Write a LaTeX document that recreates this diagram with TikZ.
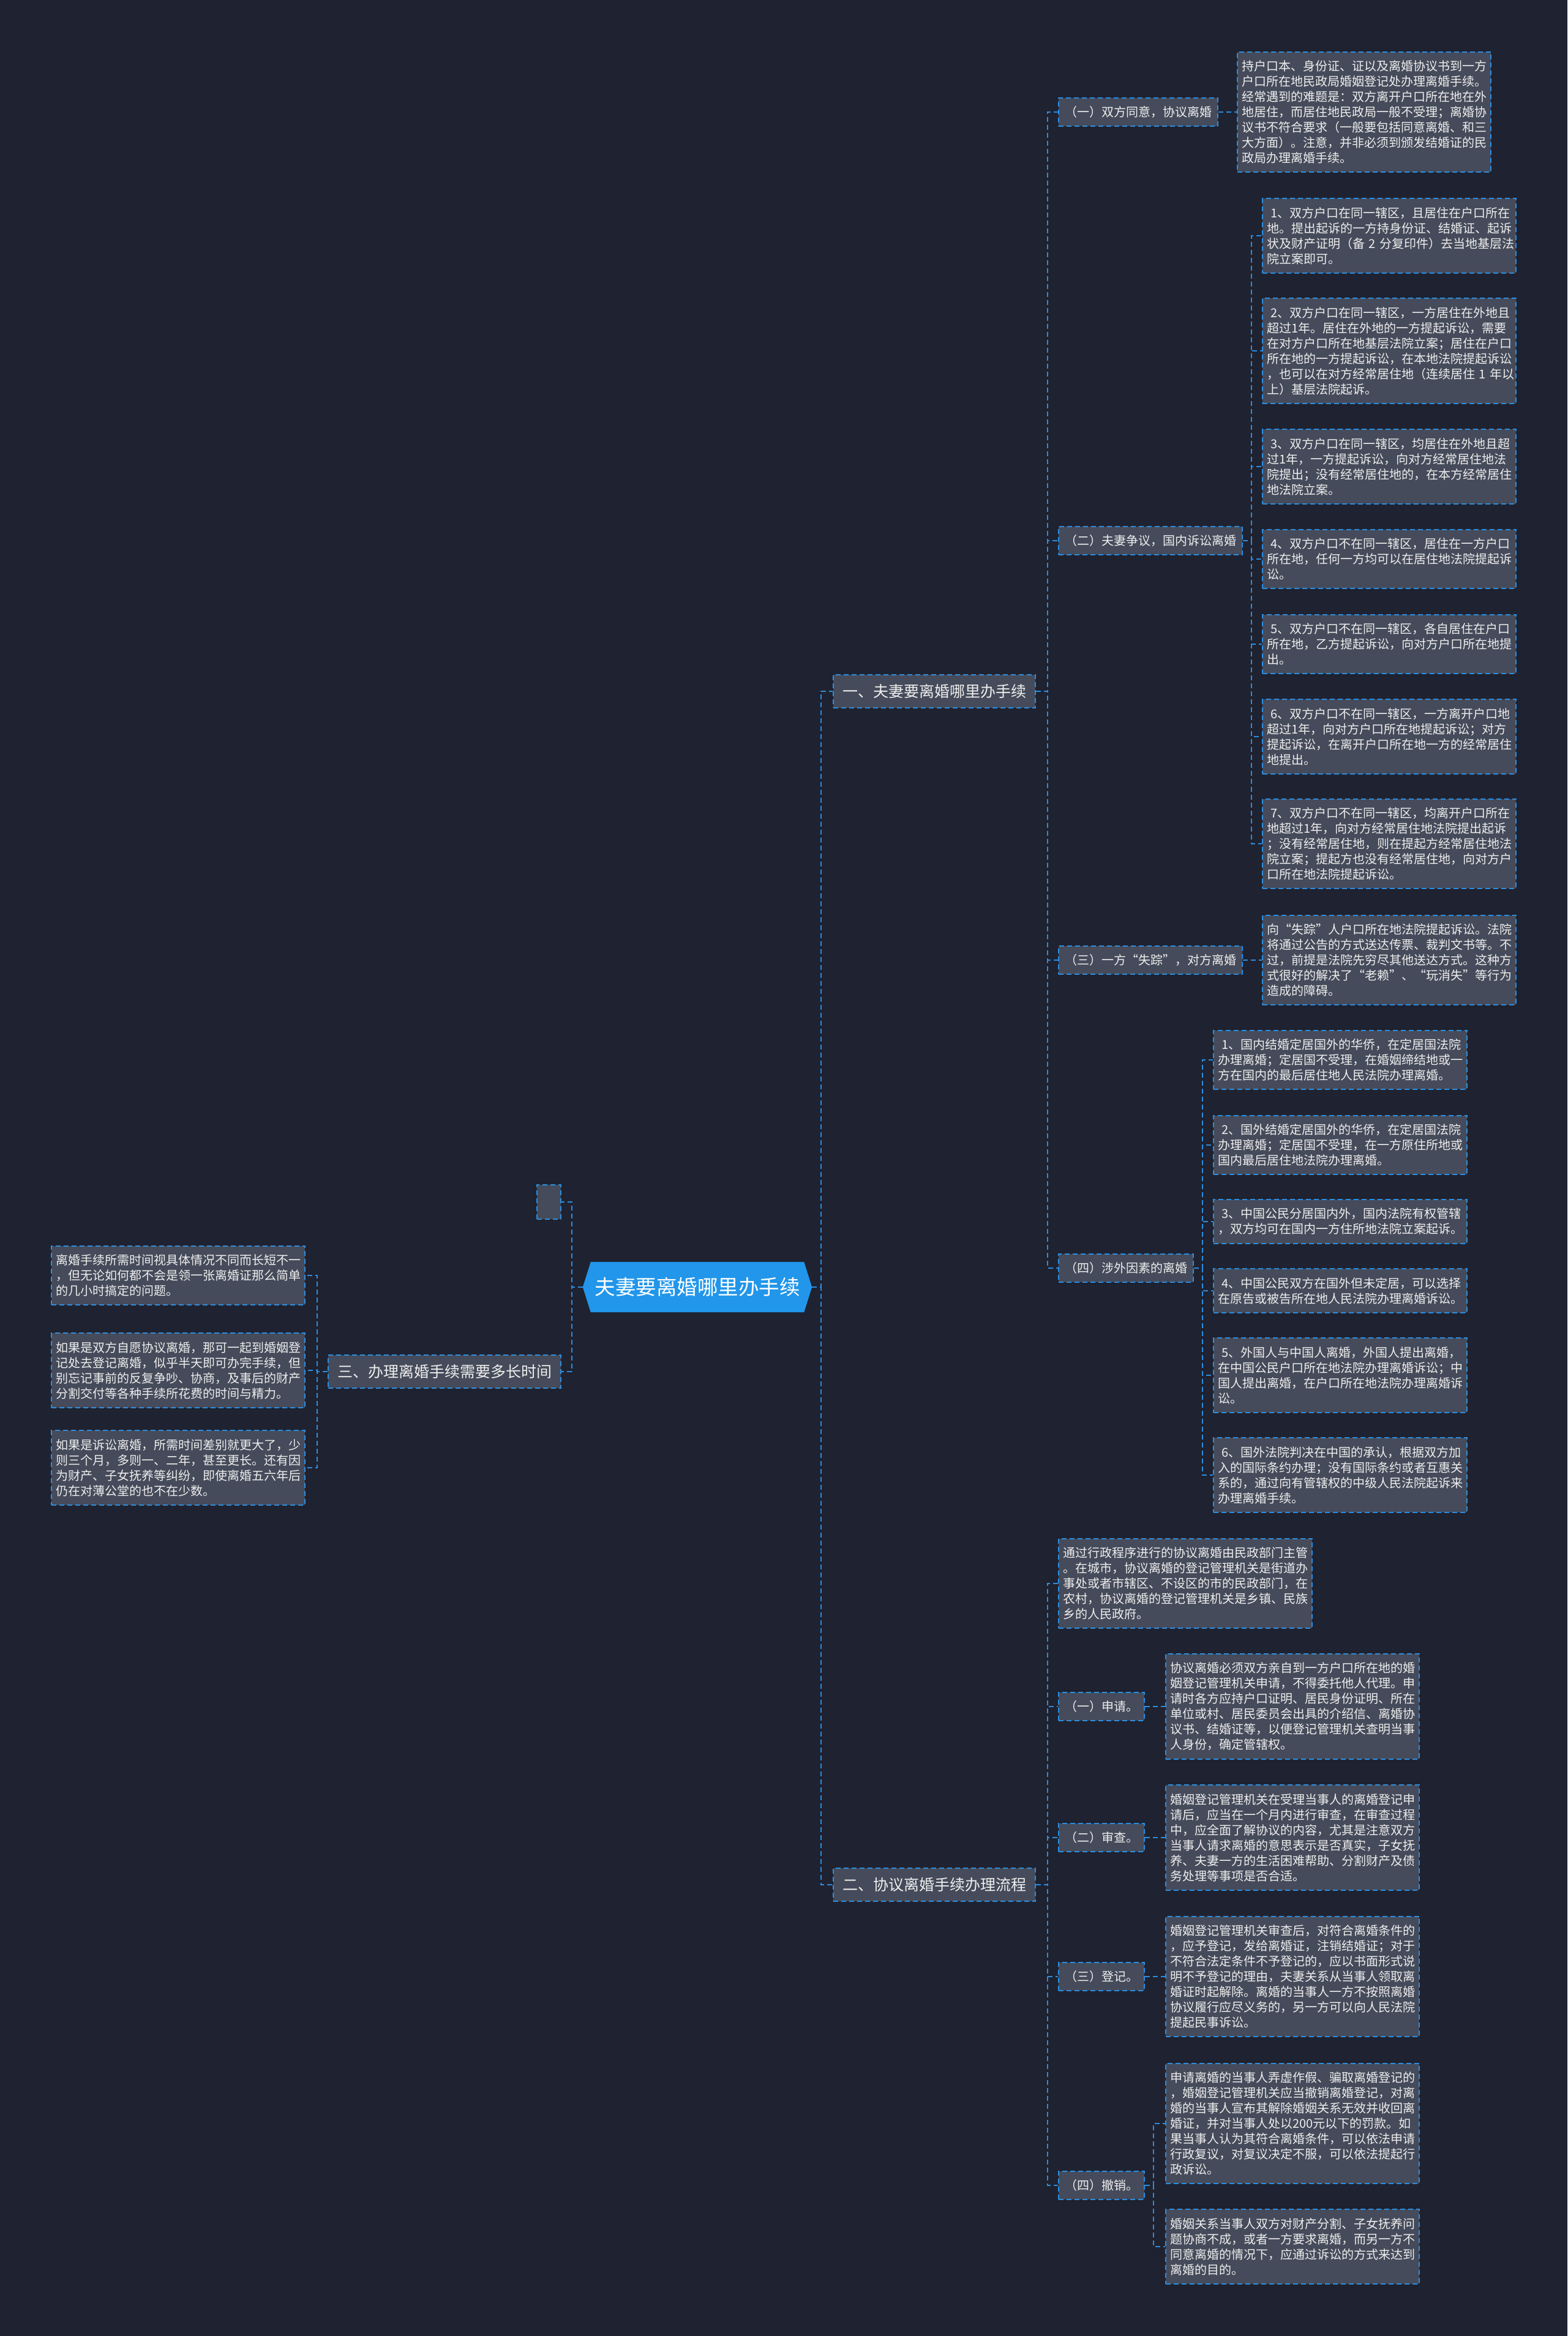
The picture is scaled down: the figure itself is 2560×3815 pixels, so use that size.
\documentclass[tikz,border=0pt]{standalone}
\usepackage{fontspec}
\setmainfont{Noto Sans CJK SC}
\usetikzlibrary{calc,backgrounds}
\definecolor{bgc}{HTML}{1F2230}
\definecolor{boxc}{HTML}{454B5A}
\definecolor{linec}{HTML}{2B8DE0}
\definecolor{txtc}{HTML}{EEEEEE}
\definecolor{mainc}{HTML}{2196EA}
\tikzset{
 conn/.style={draw=linec, line width=2pt, dash pattern=on 8pt off 5pt},
 boxbase/.style={fill=boxc, draw=linec, line width=2pt, dash pattern=on 8pt off 5pt, text=txtc},
 textbox/.style={boxbase, anchor=west, text width=400pt, align=left, inner xsep=7pt, inner ysep=14pt, font=\fontsize{20}{25}\selectfont},
 labelbox/.style={boxbase, anchor=west, inner xsep=10pt, inner ysep=13pt, text height=17.6pt, text depth=2.4pt, font=\fontsize{20}{25}\selectfont},
 topicbox/.style={boxbase, anchor=west, inner xsep=15pt, inner ysep=14.5pt, text height=22pt, text depth=3pt, font=\fontsize{25}{30}\selectfont},
}
\newcommand{\ind}{\hspace*{6pt}}
\begin{document}
\begin{tikzpicture}[x=1pt,y=-1pt]
\useasboundingbox (0,0) rectangle (2560,3815);
% central
\node[font=\fontsize{33.5}{38}\selectfont, text=white, minimum width=374pt, minimum height=82pt, inner sep=0pt] (cn) at (1139,2102) {夫妻要离婚哪里办手续};
\begin{scope}[on background layer]
\fill[bgc] (0,0) rectangle (2560,3815);
\fill[mainc] ($(cn.north west)+(13,0)$) -- ($(cn.north east)+(-13,0)$) -- (cn.east) -- ($(cn.south east)+(-13,0)$) -- ($(cn.south west)+(13,0)$) -- (cn.west) -- cycle;
\end{scope}

% level 1
\node[topicbox] (n1) at (1360,1129) {一、夫妻要离婚哪里办手续};
\node[topicbox] (n2) at (1360,3078) {二、协议离婚手续办理流程};
\node[topicbox] (n3) at (535,2240) {三、办理离婚手续需要多长时间};
\node[boxbase, anchor=west, minimum width=39pt, minimum height=56pt, inner sep=0pt] (E) at (876,1963) {};

\draw[conn] (cn.west) -- ++(-18,0) |- (E.east);
\draw[conn] (cn.west) -- ++(-18,0) |- (n3.east);
\draw[conn] (cn.east) -- ++(15,0) |- (n1.west);
\draw[conn] (cn.east) -- ++(15,0) |- (n2.west);

% ===== subtree 1
\node[labelbox] (L1a) at (1728,183) {（一）双方同意，协议离婚};
\node[labelbox] (L1b) at (1728,883) {（二）夫妻争议，国内诉讼离婚};
\node[labelbox] (L1c) at (1728,1568) {（三）一方“失踪”，对方离婚};
\node[labelbox] (L1d) at (1728,2071) {（四）涉外因素的离婚};
\coordinate (v1) at (1711,1129);
\foreach \t in {L1a,L1b,L1c,L1d}{\draw[conn] (n1.east) -- (v1) |- (\t.west);}

\node[textbox] (T1a) at (2020,183) {持户口本、身份证、证以及离婚协议书到一方\\户口所在地民政局婚姻登记处办理离婚手续。\\经常遇到的难题是：双方离开户口所在地在外\\地居住，而居住地民政局一般不受理；离婚协\\议书不符合要求（一般要包括同意离婚、和三\\大方面）。注意，并非必须到颁发结婚证的民\\政局办理离婚手续。};
\draw[conn] (L1a.east) -- (T1a.west);

\node[textbox] (B1) at (2061,385) {\ind 1、双方户口在同一辖区，且居住在户口所在\\地。提出起诉的一方持身份证、结婚证、起诉\\状及财产证明（备~2~分复印件）去当地基层法\\院立案即可。};
\node[textbox] (B2) at (2061,573) {\ind 2、双方户口在同一辖区，一方居住在外地且\\超过1年。居住在外地的一方提起诉讼，需要\\在对方户口所在地基层法院立案；居住在户口\\所在地的一方提起诉讼，在本地法院提起诉讼\\，也可以在对方经常居住地（连续居住~1~年以\\上）基层法院起诉。};
\node[textbox] (B3) at (2061,762) {\ind 3、双方户口在同一辖区，均居住在外地且超\\过1年，一方提起诉讼，向对方经常居住地法\\院提出；没有经常居住地的，在本方经常居住\\地法院立案。};
\node[textbox] (B4) at (2061,913) {\ind 4、双方户口不在同一辖区，居住在一方户口\\所在地，任何一方均可以在居住地法院提起诉\\讼。};
\node[textbox] (B5) at (2061,1052) {\ind 5、双方户口不在同一辖区，各自居住在户口\\所在地，乙方提起诉讼，向对方户口所在地提\\出。};
\node[textbox] (B6) at (2061,1203) {\ind 6、双方户口不在同一辖区，一方离开户口地\\超过1年，向对方户口所在地提起诉讼；对方\\提起诉讼，在离开户口所在地一方的经常居住\\地提出。};
\node[textbox] (B7) at (2061,1378) {\ind 7、双方户口不在同一辖区，均离开户口所在\\地超过1年，向对方经常居住地法院提出起诉\\；没有经常居住地，则在提起方经常居住地法\\院立案；提起方也没有经常居住地，向对方户\\口所在地法院提起诉讼。};
\coordinate (v1b) at (2044,883);
\foreach \t in {B1,B2,B3,B4,B5,B6,B7}{\draw[conn] (L1b.east) -- (v1b) |- (\t.west);}

\node[textbox] (T1c) at (2061,1568) {向“失踪”人户口所在地法院提起诉讼。法院\\将通过公告的方式送达传票、裁判文书等。不\\过，前提是法院先穷尽其他送达方式。这种方\\式很好的解决了“老赖”、“玩消失”等行为\\造成的障碍。};
\draw[conn] (L1c.east) -- (T1c.west);

\node[textbox] (D1) at (1981,1731) {\ind 1、国内结婚定居国外的华侨，在定居国法院\\办理离婚；定居国不受理，在婚姻缔结地或一\\方在国内的最后居住地人民法院办理离婚。};
\node[textbox] (D2) at (1981,1870) {\ind 2、国外结婚定居国外的华侨，在定居国法院\\办理离婚；定居国不受理，在一方原住所地或\\国内最后居住地法院办理离婚。};
\node[textbox] (D3) at (1981,1995) {\ind 3、中国公民分居国内外，国内法院有权管辖\\，双方均可在国内一方住所地法院立案起诉。};
\node[textbox] (D4) at (1981,2108) {\ind 4、中国公民双方在国外但未定居，可以选择\\在原告或被告所在地人民法院办理离婚诉讼。};
\node[textbox] (D5) at (1981,2246) {\ind 5、外国人与中国人离婚，外国人提出离婚，\\在中国公民户口所在地法院办理离婚诉讼；中\\国人提出离婚，在户口所在地法院办理离婚诉\\讼。};
\node[textbox] (D6) at (1981,2409) {\ind 6、国外法院判决在中国的承认，根据双方加\\入的国际条约办理；没有国际条约或者互惠关\\系的，通过向有管辖权的中级人民法院起诉来\\办理离婚手续。};
\coordinate (v1d) at (1964,2071);
\foreach \t in {D1,D2,D3,D4,D5,D6}{\draw[conn] (L1d.east) -- (v1d) |- (\t.west);}

% ===== subtree 2
\node[textbox] (I) at (1728,2586) {通过行政程序进行的协议离婚由民政部门主管\\。在城市，协议离婚的登记管理机关是街道办\\事处或者市辖区、不设区的市的民政部门，在\\农村，协议离婚的登记管理机关是乡镇、民族\\乡的人民政府。};
\node[labelbox] (K1) at (1728,2787) {（一）申请。};
\node[labelbox] (K2) at (1728,3001) {（二）审查。};
\node[labelbox] (K3) at (1728,3228) {（三）登记。};
\node[labelbox] (K4) at (1728,3569) {（四）撤销。};
\coordinate (v2) at (1711,3078);
\foreach \t in {I,K1,K2,K3,K4}{\draw[conn] (n2.east) -- (v2) |- (\t.west);}

\node[textbox] (S1) at (1903,2787) {协议离婚必须双方亲自到一方户口所在地的婚\\姻登记管理机关申请，不得委托他人代理。申\\请时各方应持户口证明、居民身份证明、所在\\单位或村、居民委员会出具的介绍信、离婚协\\议书、结婚证等，以便登记管理机关查明当事\\人身份，确定管辖权。};
\node[textbox] (S2) at (1903,3001) {婚姻登记管理机关在受理当事人的离婚登记申\\请后，应当在一个月内进行审查，在审查过程\\中，应全面了解协议的内容，尤其是注意双方\\当事人请求离婚的意思表示是否真实，子女抚\\养、夫妻一方的生活困难帮助、分割财产及债\\务处理等事项是否合适。};
\node[textbox] (S3) at (1903,3228) {婚姻登记管理机关审查后，对符合离婚条件的\\，应予登记，发给离婚证，注销结婚证；对于\\不符合法定条件不予登记的，应以书面形式说\\明不予登记的理由，夫妻关系从当事人领取离\\婚证时起解除。离婚的当事人一方不按照离婚\\协议履行应尽义务的，另一方可以向人民法院\\提起民事诉讼。};
\node[textbox] (S4a) at (1903,3468) {申请离婚的当事人弄虚作假、骗取离婚登记的\\，婚姻登记管理机关应当撤销离婚登记，对离\\婚的当事人宣布其解除婚姻关系无效并收回离\\婚证，并对当事人处以200元以下的罚款。如\\果当事人认为其符合离婚条件，可以依法申请\\行政复议，对复议决定不服，可以依法提起行\\政诉讼。};
\node[textbox] (S4b) at (1903,3669) {婚姻关系当事人双方对财产分割、子女抚养问\\题协商不成，或者一方要求离婚，而另一方不\\同意离婚的情况下，应通过诉讼的方式来达到\\离婚的目的。};
\draw[conn] (K1.east) -- (S1.west);
\draw[conn] (K2.east) -- (S2.west);
\draw[conn] (K3.east) -- (S3.west);
\coordinate (v4) at (1884,3569);
\draw[conn] (K4.east) -- (v4) |- (S4a.west);
\draw[conn] (K4.east) -- (v4) |- (S4b.west);

% ===== subtree 3
\node[textbox, anchor=east] (LB1) at (499,2083) {离婚手续所需时间视具体情况不同而长短不一\\，但无论如何都不会是领一张离婚证那么简单\\的几小时搞定的问题。};
\node[textbox, anchor=east] (LB2) at (499,2238) {如果是双方自愿协议离婚，那可一起到婚姻登\\记处去登记离婚，似乎半天即可办完手续，但\\别忘记事前的反复争吵、协商，及事后的财产\\分割交付等各种手续所花费的时间与精力。};
\node[textbox, anchor=east] (LB3) at (499,2397) {如果是诉讼离婚，所需时间差别就更大了，少\\则三个月，多则一、二年，甚至更长。还有因\\为财产、子女抚养等纠纷，即使离婚五六年后\\仍在对薄公堂的也不在少数。};
\coordinate (v3) at (518,2240);
\foreach \t in {LB1,LB2,LB3}{\draw[conn] (n3.west) -- (v3) |- (\t.east);}
\end{tikzpicture}
\end{document}
